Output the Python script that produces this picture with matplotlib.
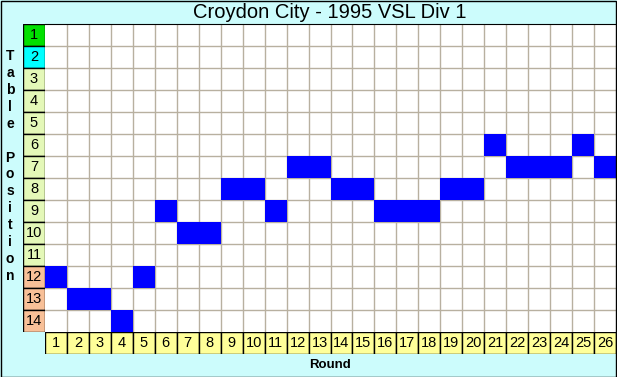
import matplotlib
matplotlib.use('Agg')
import matplotlib.pyplot as plt
from matplotlib.patches import Rectangle

# data
rounds = list(range(1, 27))
positions = [12, 13, 13, 14, 12, 9, 10, 10, 8, 8, 9, 7, 7, 8, 8, 9, 9, 9, 8, 8, 6, 7, 7, 7, 6, 7]
table_rows = list(range(1, 15))
row_colors = ['#00e000', '#00ffff'] + ['#e4f8b8'] * 9 + ['#f8c098'] * 3

plt.rcParams['font.family'] = ['Liberation Sans', 'DejaVu Sans']

W, H = 617, 377
fig = plt.figure(figsize=(W / 100, H / 100), dpi=100)
fig.patch.set_facecolor('#ccfcfc')

def fig_box(x0, y0, x1, y1):
    # pixel box (top-left origin) -> figure fraction rect
    return [x0 / W, (H - y1) / H, (x1 - x0) / W, (y1 - y0) / H]

# main grid
ax = fig.add_axes(fig_box(45, 24, 616, 332))
ax.set_facecolor('white')
ax.bar(rounds, [1] * len(rounds), bottom=[p - 0.5 for p in positions],
       width=1, color='#0000ff', zorder=3)
ax.set_xlim(0.5, 26.5)
ax.set_ylim(14.5, 0.5)
for x in range(1, 26):
    ax.axvline(x + 0.5, color='#b8b0a0', lw=1, zorder=1)
for y in range(1, 14):
    ax.axhline(y + 0.5, color='#b8b0a0', lw=1, zorder=1)
ax.set_xticks([])
ax.set_yticks([])
for side in ['left', 'bottom', 'right']:
    ax.spines[side].set_visible(False)
ax.spines['top'].set_color('black')

# table position column
axl = fig.add_axes(fig_box(23, 24, 45, 332))
axl.set_xlim(0, 1)
axl.set_ylim(14.5, 0.5)
for r, c in zip(table_rows, row_colors):
    axl.add_patch(Rectangle((0, r - 0.5), 1, 1, facecolor=c, edgecolor='black', lw=1))
    axl.text(0.5, r, str(r), ha='center', va='center', fontsize=10.5)
axl.axis('off')

# round row
axr = fig.add_axes(fig_box(45, 332, 616, 354))
axr.set_xlim(0.5, 26.5)
axr.set_ylim(0, 1)
for rd in rounds:
    axr.add_patch(Rectangle((rd - 0.5, 0), 1, 1, facecolor='#ffff99', edgecolor='black', lw=1))
    axr.text(rd, 0.5, str(rd), ha='center', va='center', fontsize=10.5)
axr.axis('off')

fig.text(330 / W, 1 - 12 / H, 'Croydon City - 1995 VSL Div 1',
         ha='center', va='center', fontsize=14.5)
fig.text(330 / W, 1 - 365 / H, 'Round', ha='center', va='center',
         fontsize=9.5, fontweight='bold')
fig.text(10 / W, 1 - 166 / H, '\n'.join('Table Position'), ha='center', va='center',
         fontsize=10, fontweight='bold', linespacing=1.27)

# outer border
fig.add_artist(Rectangle((0.5 / W, 0.5 / H), (W - 1.5) / W, (H - 1.5) / H,
                         transform=fig.transFigure, fill=False, edgecolor='black', lw=1))

fig.savefig('out.png', dpi=100)
